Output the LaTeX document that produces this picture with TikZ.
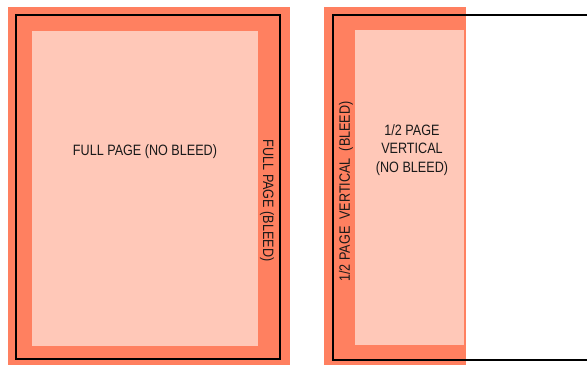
\documentclass[tikz,border=0pt]{standalone}
\usepackage{fontspec}
\setmainfont{Liberation Sans}[FakeStretch=0.84]
\usepackage{tikz}
\usetikzlibrary{positioning}
\definecolor{bleedcol}{HTML}{FF8060}
\definecolor{trimcol}{HTML}{FFC8B8}

\begin{document}
\begin{tikzpicture}[x=1pt, y=-1pt, font=\fontsize{15}{18.5}\selectfont,
    bleed/.style={fill=bleedcol, draw=none},
    trim/.style={fill=trimcol, draw=none},
    pageline/.style={draw=black, line width=1.5pt},
    label/.style={inner sep=0pt, align=center, text=black!90}]
    \useasboundingbox (0,0) rectangle (587,365);

    % full page
    \fill[bleed] (8,7) rectangle (290,365);
    \draw[pageline] (16,15) rectangle (280,359);
    \fill[trim] (32,31) rectangle (258,346);
    \node[label] (fullnb) at (145,152) {FULL PAGE (NO BLEED)};
    \node[label, rotate=-90] (fullb) at (267,200.5) {FULL PAGE (BLEED)};

    % half page vertical
    \fill[bleed] (324,7) rectangle (466,365);
    \draw[pageline] (587,15) -- (333,15) -- (333,360) -- (587,360);
    \fill[trim] (355,30) rectangle (464,345);
    \node[label] (halfnb) at (412,150) {1/2 PAGE\\ VERTICAL\\(NO BLEED)};
    \node[label, rotate=90] (halfb) at (346,191.5) {1/2 PAGE\ \ VERTICAL\ \ (BLEED)};
\end{tikzpicture}
\end{document}
